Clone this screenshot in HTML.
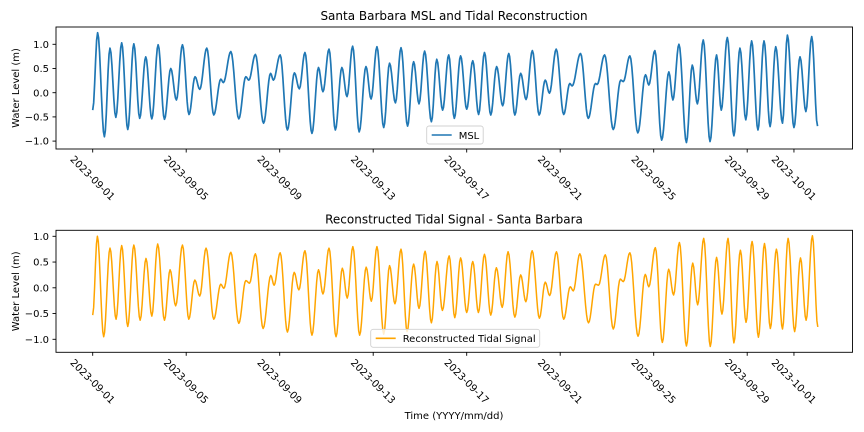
<!DOCTYPE html>
<html><head><meta charset="utf-8"><style>
html,body{margin:0;padding:0;background:#fff;}
svg{display:block;font-family:"DejaVu Sans","Liberation Sans",sans-serif;}
</style></head><body>
<svg id="c" width="864" height="432" viewBox="0 0 864 432"></svg>
<script>
const tickDays = [0,4,8,12,16,20,24,28,30];
const tickLabels = ["2023-09-01","2023-09-05","2023-09-09","2023-09-13","2023-09-17","2023-09-21","2023-09-25","2023-09-29","2023-10-01"];
const yTicks = [1.0,0.5,0.0,-0.5,-1.0];
const yTickLabels = ["1.0","0.5","0.0","\u22120.5","\u22121.0"];
const mslDays = [0,0.21,0.50,0.74,0.99,1.24,1.50,1.76,2.01,2.27,2.53,2.80,3.07,3.34,3.58,3.84,4.12,4.38,4.58,4.88,5.18,5.48,5.59,5.91,6.25,6.55,6.68,6.96,7.31,7.61,7.73,8.02,8.33,8.63,8.84,9.08,9.38,9.66,9.85,10.11,10.38,10.66,10.88,11.12,11.40,11.69,11.91,12.16,12.45,12.70,12.95,13.19,13.47,13.73,13.96,14.20,14.49,14.72,14.97,15.23,15.47,15.74,16.00,16.26,16.51,16.76,17.03,17.28,17.54,17.80,18.06,18.31,18.54,18.81,19.10,19.36,19.54,19.83,20.15,20.41,20.51,20.87,21.20,21.51,21.58,21.90,22.27,22.59,22.70,22.98,23.32,23.65,23.79,24.05,24.34,24.65,24.82,25.08,25.40,25.65,25.87,26.12,26.41,26.69,26.89,27.15,27.43,27.69,27.94,28.19,28.46,28.72,28.98,29.22,29.51,29.72,30.00,30.26,30.51,30.76,31.01];
const mslVals = [-0.36,1.24,-0.91,0.92,-0.51,1.03,-0.76,1.01,-0.53,0.74,-0.54,0.99,-0.55,0.50,-0.15,0.99,-0.45,0.33,0.07,0.92,-0.46,0.28,0.21,0.85,-0.54,0.33,0.26,0.79,-0.63,0.40,0.26,0.78,-0.77,0.41,0.08,0.83,-0.84,0.52,0.02,0.90,-0.77,0.52,-0.08,0.96,-0.81,0.54,-0.13,0.95,-0.72,0.61,-0.21,0.93,-0.69,0.64,-0.23,0.86,-0.60,0.69,-0.36,0.78,-0.53,0.76,-0.34,0.66,-0.45,0.83,-0.46,0.54,-0.27,0.81,-0.46,0.40,-0.14,0.87,-0.46,0.26,-0.01,0.90,-0.45,0.19,0.14,0.81,-0.53,0.19,0.17,0.78,-0.76,0.26,0.23,0.76,-0.83,0.37,0.16,0.87,-0.98,0.43,-0.15,1.00,-1.03,0.57,-0.23,1.09,-1.01,0.78,-0.36,1.14,-0.89,0.92,-0.56,1.07,-0.77,1.07,-0.70,0.95,-0.63,1.19,-0.72,0.74,-0.39,1.16,-0.69];
const tideDays = [0,0.20,0.47,0.74,1.00,1.24,1.50,1.76,2.03,2.28,2.53,2.78,3.07,3.31,3.55,3.84,4.11,4.37,4.58,4.85,5.18,5.48,5.61,5.91,6.25,6.55,6.71,6.96,7.29,7.62,7.76,8.02,8.33,8.62,8.82,9.08,9.38,9.66,9.85,10.11,10.41,10.68,10.89,11.13,11.42,11.70,11.92,12.16,12.45,12.70,12.93,13.19,13.45,13.73,13.96,14.22,14.49,14.73,14.96,15.25,15.49,15.74,16.00,16.26,16.50,16.76,17.03,17.27,17.52,17.77,18.06,18.31,18.53,18.80,19.11,19.36,19.55,19.84,20.15,20.43,20.56,20.84,21.21,21.51,21.64,21.93,22.27,22.57,22.70,22.98,23.33,23.64,23.79,24.07,24.37,24.64,24.85,25.10,25.40,25.67,25.88,26.14,26.42,26.69,26.92,27.18,27.43,27.71,27.95,28.21,28.48,28.74,28.99,29.25,29.51,29.75,30.03,30.28,30.52,30.79,31.02];
const tideVals = [-0.53,1.00,-0.95,0.77,-0.61,0.82,-0.75,0.83,-0.63,0.57,-0.55,0.85,-0.63,0.35,-0.35,0.83,-0.61,0.15,-0.16,0.77,-0.61,0.07,-0.01,0.69,-0.69,0.14,0.09,0.66,-0.79,0.24,0.05,0.68,-0.86,0.30,-0.04,0.72,-0.92,0.35,-0.12,0.77,-0.95,0.38,-0.20,0.80,-0.92,0.40,-0.26,0.80,-0.90,0.43,-0.31,0.75,-0.85,0.46,-0.40,0.71,-0.68,0.51,-0.44,0.62,-0.58,0.58,-0.48,0.51,-0.48,0.65,-0.53,0.39,-0.38,0.70,-0.57,0.25,-0.27,0.72,-0.59,0.11,-0.15,0.70,-0.61,0.02,-0.06,0.66,-0.68,0.07,0.05,0.64,-0.80,0.17,0.12,0.68,-0.94,0.26,0.02,0.78,-1.06,0.36,-0.14,0.88,-1.13,0.48,-0.33,0.96,-1.14,0.59,-0.51,0.96,-1.07,0.73,-0.67,0.90,-0.96,0.86,-0.79,0.75,-0.80,0.96,-0.85,0.58,-0.63,1.01,-0.76];

const NS='http://www.w3.org/2000/svg';
const svg=document.getElementById('c');
function mk(tag,attrs,parent){const e=document.createElementNS(NS,tag);for(const k in attrs)e.setAttribute(k,attrs[k]);(parent||svg).appendChild(e);return e;}
const X0=92.7, PXD=23.375, L=56, R=852.5;
function xs(d){return X0+d*PXD;}

function panel(cfg){
  const g=mk('g',{});
  
  
  const T=cfg.top,B=cfg.bottom;
  const ys=v=>cfg.y0-v*cfg.ppu;
  const t=mk('text',{x:454,y:T-7,'text-anchor':'middle','font-size':12,fill:'#000'},g);
  t.textContent=cfg.title;
  
  
  let d='';
  const D=cfg.days,V=cfg.vals;
  for(let i=0;i<D.length-1;i++){
    const x1=xs(D[i]),x2=xs(D[i+1]);
    const n=Math.max(4,Math.ceil((x2-x1)));
    for(let k=(i===0?0:1);k<=n;k++){
      const f=k/n, w=(1-Math.cos(Math.PI*f))/2;
      const x=x1+(x2-x1)*f, v=V[i]+(V[i+1]-V[i])*w;
      d+=(d?'L':'M')+x.toFixed(2)+' '+ys(v).toFixed(2);
    }
  }
  const p=mk('path',{d:d,fill:'none',stroke:cfg.color,'stroke-width':cfg.sw,'stroke-linejoin':'round'},g);
  
  
  const fr=mk('rect',{x:L,y:T,width:R-L,height:B-T,fill:'none',stroke:'#000','stroke-width':0.9},g);
  
  
  yTicks.forEach((v,i)=>{
    const y=ys(v);
    mk('line',{x1:L-3.5,x2:L,y1:y,y2:y,stroke:'#000','stroke-width':0.9},g);
    const tx=mk('text',{x:L-7,y:y+3.6,'text-anchor':'end','font-size':10,fill:'#000'},g);
    tx.textContent=yTickLabels[i];
    
    
  });
  const yl=mk('text',{x:0,y:0,'text-anchor':'middle','font-size':10,fill:'#000',transform:`translate(19,${(T+B)/2}) rotate(-90)`},g);
  yl.textContent='Water Level (m)';
  
  
  tickDays.forEach((dd,i)=>{
    const x=xs(dd);
    mk('line',{x1:x,x2:x,y1:B,y2:B+3.5,stroke:'#000','stroke-width':0.9},g);
    const tx=mk('text',{x:0,y:0,'text-anchor':'middle','font-size':10,fill:'#000',transform:`translate(${x},${B+29}) rotate(45)`},g);
    tx.textContent=tickLabels[i];
    tx.setAttribute('dy','3.5');
    
    
  });
  const lg=mk('g',{},g);
  
  
  mk('rect',{x:cfg.lx,y:cfg.ly,width:cfg.lw,height:18,rx:2.5,fill:'#fff','fill-opacity':0.8,stroke:'#d0d0d0','stroke-width':0.9},lg);
  mk('line',{x1:cfg.lx+5,x2:cfg.lx+25,y1:cfg.ly+9,y2:cfg.ly+9,stroke:cfg.color,'stroke-width':1.6},lg);
  const lt=mk('text',{x:cfg.lx+32,y:cfg.ly+12.8,'font-size':10,fill:'#000'},lg);
  lt.textContent=cfg.legend;
  
  
}
panel({name:'msl-panel',seriesName:'msl-line',title:'Santa Barbara MSL and Tidal Reconstruction',top:27,bottom:149,y0:92.7,ppu:48.4,days:mslDays,vals:mslVals,color:'#1f77b4',sw:1.7,legend:'MSL',lx:426.7,ly:126,lw:56.5});
panel({name:'tidal-panel',seriesName:'tidal-line',title:'Reconstructed Tidal Signal - Santa Barbara',top:230.3,bottom:352.3,y0:287.8,ppu:51.5,days:tideDays,vals:tideVals,color:'#ffa500',sw:1.5,legend:'Reconstructed Tidal Signal',lx:370.7,ly:329.3,lw:169});
const xl=mk('text',{x:454,y:419,'text-anchor':'middle','font-size':10,fill:'#000'});
xl.textContent='Time (YYYY/mm/dd)';


</script>
</body></html>
